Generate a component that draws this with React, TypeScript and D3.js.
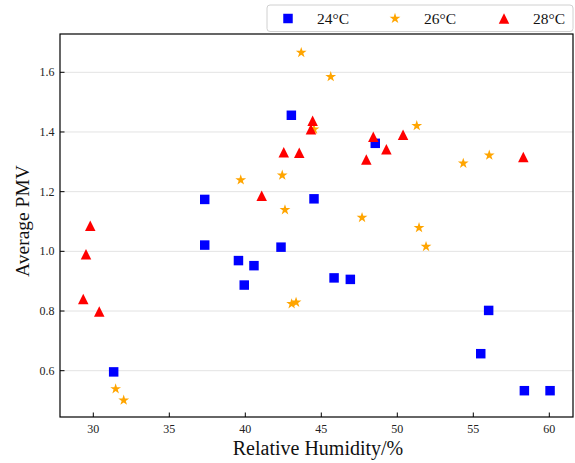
import * as d3 from 'd3';
import React from 'react';

// relative humidity (%) / average PMV
const rh24 = [31.34, 37.33, 37.33, 39.55, 40.57, 39.93, 42.35, 43.03, 44.52, 45.84, 46.91, 48.55, 56.01, 55.49, 58.36, 60.05];
const pmv24 = [0.596, 1.174, 1.021, 0.969, 0.952, 0.887, 1.014, 1.456, 1.176, 0.911, 0.906, 1.362, 0.802, 0.657, 0.533, 0.533];

const rh26 = [31.47, 32.0, 39.7, 42.43, 42.61, 43.05, 43.34, 43.68, 44.52, 45.62, 47.68, 51.28, 51.43, 51.89, 54.34, 56.05];
const pmv26 = [0.539, 0.501, 1.239, 1.255, 1.139, 0.824, 0.829, 1.666, 1.409, 1.585, 1.113, 1.421, 1.079, 1.016, 1.295, 1.322];

const rh28 = [29.34, 29.52, 29.8, 30.39, 41.08, 42.53, 43.55, 44.32, 44.43, 47.96, 48.42, 49.28, 50.38, 58.29];
const pmv28 = [0.84, 0.99, 1.086, 0.798, 1.186, 1.332, 1.33, 1.409, 1.438, 1.308, 1.384, 1.342, 1.391, 1.316];

const xTicks = [30, 35, 40, 45, 50, 55, 60];
const yTicks = [0.6, 0.8, 1.0, 1.2, 1.4, 1.6];
const labels = ['24°C', '26°C', '28°C'];

const W = 575, H = 463;
const left = 60, right = 573, top = 34, bottom = 417;

const font = '"Liberation Serif", "Times New Roman", serif';

const triPath = (s: number) => `M0,${-s / 2}L${s / 2},${s / 2}L${-s / 2},${s / 2}Z`;
const sqPath = d3.symbol(d3.symbolSquare, 90)()!;
const starPath = d3.symbol(d3.symbolStar, 36)()!;

function Marker({ kind, x, y }: { kind: number; x: number; y: number }) {
  if (kind === 0) return <path d={sqPath} transform={`translate(${x},${y})`} fill="#0000ff" />;
  if (kind === 1) return <path d={starPath} transform={`translate(${x},${y})`} fill="#ffa500" />;
  return <path d={triPath(10.5)} transform={`translate(${x},${y})`} fill="#ff0000" />;
}

export default function App() {
  const x = d3.scaleLinear().domain([30, 60]).range([93.3, 549.3]);
  const y = d3.scaleLinear().domain([0.6, 1.6]).range([370.7, 72.3]);

  const series = [
    { kind: 0, xs: rh24, ys: pmv24 },
    { kind: 1, xs: rh26, ys: pmv26 },
    { kind: 2, xs: rh28, ys: pmv28 },
  ];

  const legendX = [288, 395, 504];

  return (
    <svg width={W} height={H} style={{ position: 'absolute', left: 0, top: 0, background: '#fff' }}>
      {/* grid */}
      {yTicks.map((t) => (
        <line key={'g' + t} x1={left} x2={right} y1={y(t)} y2={y(t)} stroke="#e3e3e3" strokeWidth={1} />
      ))}

      {/* points */}
      {series.map((s) =>
        s.xs.map((v, i) => <Marker key={s.kind + '-' + i} kind={s.kind} x={x(v)} y={y(s.ys[i])} />)
      )}

      {/* frame */}
      <rect x={left} y={top} width={right - left} height={bottom - top} fill="none" stroke="#000" strokeWidth={1.2} />

      {/* x axis, ticks point inward */}
      {xTicks.map((t) => (
        <g key={'x' + t}>
          <line x1={x(t)} x2={x(t)} y1={bottom} y2={bottom - 4.5} stroke="#000" strokeWidth={1} />
          <text x={x(t)} y={433} textAnchor="middle" fontFamily={font} fontSize={12} fill="#222">
            {t}
          </text>
        </g>
      ))}
      <text x={318} y={455} textAnchor="middle" fontFamily={font} fontSize={20} fill="#111">
        Relative Humidity/%
      </text>

      {/* y axis */}
      {yTicks.map((t) => (
        <g key={'y' + t}>
          <line x1={left} x2={left + 4.5} y1={y(t)} y2={y(t)} stroke="#000" strokeWidth={1} />
          <text x={54.5} y={y(t) + 4} textAnchor="end" fontFamily={font} fontSize={12} fill="#222">
            {d3.format('.1f')(t)}
          </text>
        </g>
      ))}
      <text
        transform={`translate(29,221) rotate(-90)`}
        textAnchor="middle"
        fontFamily={font}
        fontSize={19.5}
        fill="#111"
      >
        Average PMV
      </text>

      {/* legend */}
      <rect x={267} y={5} width={306} height={26.5} rx={3} fill="#fff" stroke="#d0d0d0" strokeWidth={1} />
      {labels.map((l, i) => (
        <g key={l}>
          <Marker kind={i} x={legendX[i]} y={18.5} />
          <text x={legendX[i] + 29} y={24} fontFamily={font} fontSize={15.5} fill="#111">
            {l}
          </text>
        </g>
      ))}
    </svg>
  );
}
